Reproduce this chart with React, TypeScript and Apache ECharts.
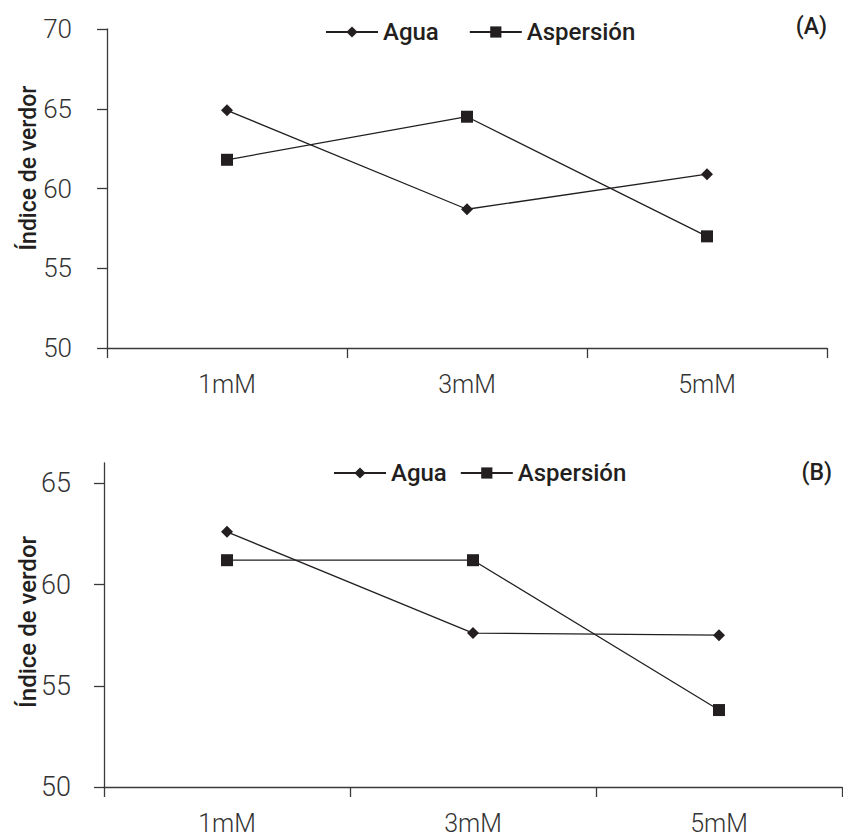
import React, { useEffect, useRef } from "react";
import * as echarts from "echarts";

const categories = ["1mM", "3mM", "5mM"];
const seriesNames = ["Agua", "Aspersión"];
const aguaA = [64.9, 58.7, 60.9];
const aspersionA = [61.8, 64.5, 57.0];
const aguaB = [62.6, 57.6, 57.5];
const aspersionB = [61.2, 61.2, 53.8];
const yTicksA = [50, 55, 60, 65, 70];
const yTicksB = [50, 55, 60, 65];
const yName = "Índice de verdor";
const panelLabels = ["(A)", "(B)"];

const FONT = "Roboto, 'Noto Sans', sans-serif";
const INK = "#231f20";
const AXIS = "#3a3a3a";

export default function App() {
  const ref = useRef<HTMLDivElement>(null);
  useEffect(() => {
    if (!ref.current) return;
    const chart = echarts.init(ref.current, undefined, { renderer: "svg" });
    const axisLine = { show: true, lineStyle: { color: AXIS, width: 1.3 } };
    const axisTick = { show: true, length: 10, lineStyle: { color: AXIS, width: 1.3 } };
    const xLabel = { fontFamily: FONT, fontSize: 25, fontWeight: 300, color: "#333", margin: 24 };
    const mkSeries = (name: string, data: number[], idx: number, symbol: string, size: number) => ({
      type: "line",
      name,
      data,
      xAxisIndex: idx,
      yAxisIndex: idx,
      symbol,
      symbolSize: size,
      showAllSymbol: true,
      lineStyle: { color: INK, width: 1.3 },
      itemStyle: { color: INK },
      emphasis: { disabled: true },
    });
    const legendBase = {
      orient: "horizontal",
      itemWidth: 52,
      itemHeight: 14,
      padding: 0,
      textStyle: { fontFamily: FONT, fontSize: 24, fontWeight: 500, color: INK },
      data: seriesNames,
    };
    chart.setOption({
      animation: false,
      backgroundColor: "#ffffff",
      grid: [
        { left: 107, right: 16, top: 29, height: 319 },
        { left: 104, right: 1, top: 463, height: 324 },
      ],
      xAxis: [
        { type: "category", data: categories, gridIndex: 0, axisLine, axisTick, axisLabel: xLabel, splitLine: { show: false } },
        { type: "category", data: categories, gridIndex: 1, axisLine, axisTick, axisLabel: xLabel, splitLine: { show: false } },
      ],
      yAxis: [
        {
          type: "value", gridIndex: 0, min: 50, max: 70, interval: 5,
          axisLine, axisTick: { ...axisTick, customValues: yTicksA },
          axisLabel: { fontFamily: FONT, fontSize: 26, fontWeight: 300, color: "#333", margin: 35, customValues: yTicksA },
          splitLine: { show: false },
        },
        {
          type: "value", gridIndex: 1, min: 50, max: 66, interval: 5,
          axisLine, axisTick: { ...axisTick, customValues: yTicksB },
          axisLabel: { fontFamily: FONT, fontSize: 27, fontWeight: 300, color: "#333", margin: 33, customValues: yTicksB },
          splitLine: { show: false },
        },
      ],
      legend: [
        { ...legendBase, left: 325, top: 20, itemGap: 30 },
        { ...legendBase, left: 333, top: 461, itemGap: 13 },
      ],
      series: [
        mkSeries(seriesNames[0], aguaA, 0, "diamond", 12),
        mkSeries(seriesNames[1], aspersionA, 0, "rect", 12),
        mkSeries(seriesNames[0], aguaB, 1, "diamond", 12),
        mkSeries(seriesNames[1], aspersionB, 1, "rect", 12),
      ],
      graphic: [
        {
          type: "text", x: 28.5, y: 168, rotation: Math.PI / 2,
          style: { text: yName, fontFamily: FONT, fontSize: 23, fontWeight: 500, fill: INK, align: "center", verticalAlign: "middle" },
        },
        {
          type: "text", x: 28, y: 622, rotation: Math.PI / 2,
          style: { text: yName, fontFamily: FONT, fontSize: 24, fontWeight: 500, fill: INK, align: "center", verticalAlign: "middle" },
        },
        {
          type: "text", x: 827, y: 26,
          style: { text: panelLabels[0], fontFamily: FONT, fontSize: 23, fontWeight: 500, fill: INK, align: "right", verticalAlign: "middle" },
        },
        {
          type: "text", x: 832, y: 472.5,
          style: { text: panelLabels[1], fontFamily: FONT, fontSize: 23, fontWeight: 500, fill: INK, align: "right", verticalAlign: "middle" },
        },
      ],
    });
    return () => chart.dispose();
  }, []);
  return <div ref={ref} style={{ position: "fixed", left: 0, top: 0, width: 843, height: 840 }} />;
}
